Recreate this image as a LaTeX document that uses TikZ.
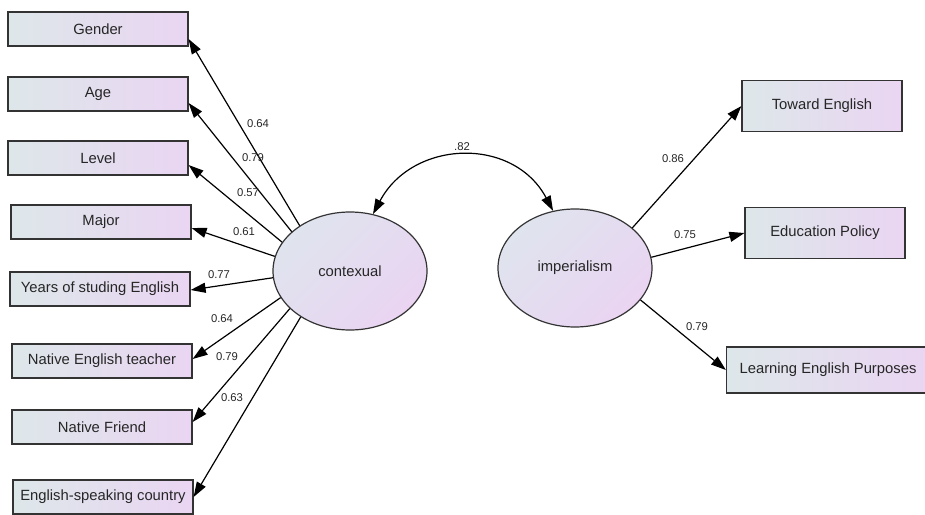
\documentclass[tikz,border=0pt]{standalone}
\usepackage{fontspec}
\setmainfont{Liberation Sans}
\usetikzlibrary{arrows.meta,shapes.geometric}

\definecolor{obsleft}{RGB}{221,231,234}
\definecolor{obsright}{RGB}{234,213,242}
\definecolor{latleft}{RGB}{223,228,238}
\definecolor{latright}{RGB}{234,212,242}

\tikzset{
    obs/.style={draw=black!80, line width=1.2pt, left color=obsleft, right color=obsright,
        minimum width=180pt, minimum height=34pt, inner sep=0pt,
        font=\fontsize{14.8}{17}\selectfont, text=black!85},
    lat/.style={ellipse, draw=black!80, line width=1.2pt, top color=latleft, bottom color=latright,
        shading angle=45, minimum width=154pt, minimum height=118pt, inner sep=0pt,
        font=\fontsize{14.8}{17}\selectfont, text=black!85},
    link/.style={->, line width=1.2pt},
    wt/.style={inner sep=0pt, font=\fontsize{11.3}{13}\selectfont, text=black!85}
}

\begin{document}
\begin{tikzpicture}[x=1pt, y=-1pt, >={Triangle[length=15pt,width=10pt]}]
    \useasboundingbox (0,0) rectangle (925,514);

    % latent variables
    \node[lat] (contexual) at (350,271) {contexual};
    \node[lat] (imperialism) at (575,268) {imperialism};

    % observed variables, left
    \node[obs] (gender) at (98,29) {Gender};
    \node[obs] (age) at (98,94) {Age};
    \node[obs] (level) at (98,158) {Level};
    \node[obs] (major) at (101,222) {Major};
    \node[obs] (years) at (100,289) {Years of studing English};
    \node[obs] (teacher) at (102,361) {Native English teacher};
    \node[obs] (friend) at (102,427) {Native Friend};
    \node[obs] (country) at (103,497) {English-speaking country};

    % observed variables, right
    \node[obs, minimum width=160pt, minimum height=51pt] (toward) at (822,106) {Toward English};
    \node[obs, minimum width=160pt, minimum height=51pt] (policy) at (825,233) {Education Policy};
    \node[obs, minimum width=203pt, minimum height=46pt] (purposes) at (828,370) {Learning English Purposes};

    \draw[link] (contexual.138) -- ([yshift=-10pt]gender.east);
    \draw[link] (contexual.146) -- ([yshift=-9pt]age.east);
    \draw[link] (contexual.157) -- ([yshift=-7pt]level.east);
    \draw[link] (contexual.169) -- ([yshift=-6pt]major.east);
    \draw[link] (contexual.185) -- ([yshift=-1pt]years.east);
    \draw[link] (contexual.201) -- ([yshift=2pt]teacher.east);
    \draw[link] (contexual.212) -- ([yshift=5pt]friend.east);
    \draw[link] (contexual.223) -- (country.east);

    \draw[link] (imperialism.35) -- (toward.west);
    \draw[link] (imperialism.8) -- (policy.west);
    \draw[link] (imperialism.-26) -- (purposes.west);

    % covariance
    \draw[<->, line width=1.2pt] (contexual.68) to[out=62, in=118, looseness=1.2] (imperialism.111);
    \node[wt] (cov) at (462,147) {.82};

    \node[wt] (w1) at (258,124) {0.64};
    \node[wt] (w2) at (253,158) {0.79};
    \node[wt] (w3) at (248,193) {0.57};
    \node[wt] (w4) at (244,232) {0.61};
    \node[wt] (w5) at (219,275) {0.77};
    \node[wt] (w6) at (222,319) {0.64};
    \node[wt] (w7) at (227,357) {0.79};
    \node[wt] (w8) at (232,398) {0.63};
    \node[wt] (w9) at (673,159) {0.86};
    \node[wt] (w10) at (685,235) {0.75};
    \node[wt] (w11) at (697,327) {0.79};

\end{tikzpicture}
\end{document}
